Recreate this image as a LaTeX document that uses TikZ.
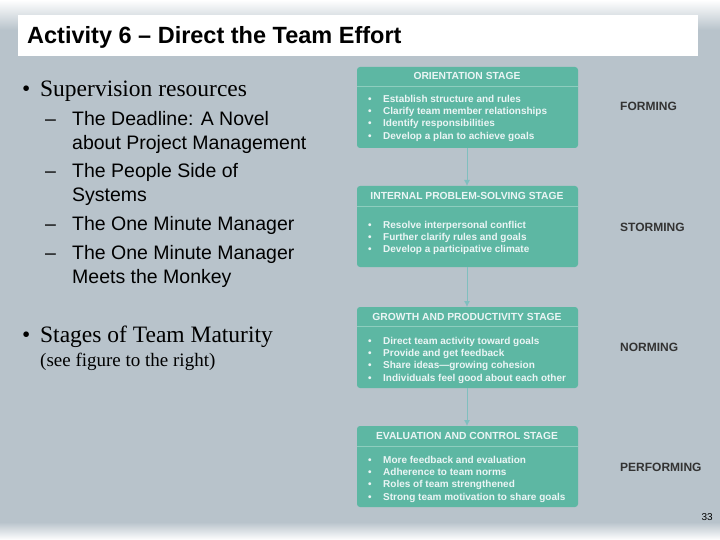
\documentclass[tikz,border=0pt]{standalone}
\usepackage{fontspec}
\setsansfont{Liberation Sans}
\setmainfont{Liberation Serif}
\usetikzlibrary{arrows.meta}
\begin{document}
\begin{tikzpicture}[x=1pt,y=-1pt,
  hdr/.style={font=\sffamily\bfseries\fontsize{10.3}{12}\selectfont, text=white!92!teal},
  itm/.style={font=\sffamily\bfseries\fontsize{10}{12.2}\selectfont, text=white!92!teal, anchor=north west, align=left, inner sep=0},
  lab/.style={font=\sffamily\bfseries\fontsize{12}{13}\selectfont, text=black!80, anchor=west, inner sep=0},
  sub/.style={font=\sffamily\fontsize{19.5}{24}\selectfont, anchor=north west, inner sep=0, align=left},
  arr/.style={draw=teal!50!white, line width=0.8pt, -{Latex[length=6pt,width=6pt]}}]
\definecolor{bg}{HTML}{B8C3CB}
\definecolor{tl}{HTML}{5DB7A3}
\definecolor{tll}{HTML}{8ECDBE}
\useasboundingbox (0,0) rectangle (720,540);
\fill[bg] (0,0) rectangle (720,540);
\shade[top color=white, bottom color=bg] (0,0) rectangle (720,30);
\shade[top color=bg, bottom color=white] (0,522) rectangle (720,540);
\fill[white] (18,15) rectangle (698,56);
\node[anchor=west, font=\sffamily\bfseries\fontsize{23.5}{26}\selectfont, inner sep=0] (title) at (27,37) {Activity 6 -- Direct the Team Effort};
% left text
\node[anchor=west, font=\rmfamily\fontsize{23.5}{26}\selectfont, inner sep=0] (b1) at (22,91) {\makebox[18pt][l]{\textbullet}Supervision resources};
\newcommand\dashitem[1]{\makebox[27pt][l]{--}\parbox[t]{260pt}{#1}}
\node[sub] (s1) at (45,111) {\dashitem{The Deadline: A Novel\\about Project Management}};
\node[sub] (s2) at (45,163) {\dashitem{The People Side of\\Systems}};
\node[sub] (s3) at (45,216) {\dashitem{The One Minute Manager}};
\node[sub] (s4) at (45,245) {\dashitem{The One Minute Manager\\Meets the Monkey}};
\node[anchor=west, font=\rmfamily\fontsize{23.5}{26}\selectfont, inner sep=0] (b2) at (22,337) {\makebox[18pt][l]{\textbullet}Stages of Team Maturity};
\node[anchor=west, font=\rmfamily\fontsize{19}{22}\selectfont, inner sep=0] (b2s) at (40,362) {(see figure to the right)};
% boxes
\foreach \t/\h/\nm in {67/86/A,186/206/B,307/326/C,426/446/D}{
  \fill[tl, rounded corners=3pt] (357,\t) rectangle (578,\t+81);
  \draw[tll, line width=0.8pt] (357,\h) -- (578,\h);
  \coordinate (\nm t) at (467,\t);
  \coordinate (\nm b) at (467,\t+81);
}
\node[hdr] (h1) at (467,76) {ORIENTATION STAGE};
\node[hdr] (h2) at (467,196) {INTERNAL PROBLEM-SOLVING STAGE};
\node[hdr] (h3) at (467,317) {GROWTH AND PRODUCTIVITY STAGE};
\node[hdr] (h4) at (467,436) {EVALUATION AND CONTROL STAGE};
\newcommand\bi{\makebox[15pt][l]{\textbullet}}
\node[itm] (i1) at (368,95) {\bi Establish structure and rules\\\bi Clarify team member relationships\\\bi Identify responsibilities\\\bi Develop a plan to achieve goals};
\node[itm] (i2) at (368,221) {\bi Resolve interpersonal conflict\\\bi Further clarify rules and goals\\\bi Develop a participative climate};
\node[itm] (i3) at (368,337) {\bi Direct team activity toward goals\\\bi Provide and get feedback\\\bi Share ideas---growing cohesion\\\bi Individuals feel good about each other};
\node[itm] (i4) at (368,456) {\bi More feedback and evaluation\\\bi Adherence to team norms\\\bi Roles of team strengthened\\\bi Strong team motivation to share goals};
\draw[arr] (Ab) -- (Bt);
\draw[arr] (Bb) -- (Ct);
\draw[arr] (Cb) -- (Dt);
\node[lab] (f) at (620,106) {FORMING};
\node[lab] (st) at (620,227) {STORMING};
\node[lab] (n) at (620,347) {NORMING};
\node[lab] (p) at (620,467) {PERFORMING};
\node[font=\sffamily\fontsize{10}{11}\selectfont, anchor=east, inner sep=0] (pg) at (713,517) {33};
\end{tikzpicture}
\end{document}
